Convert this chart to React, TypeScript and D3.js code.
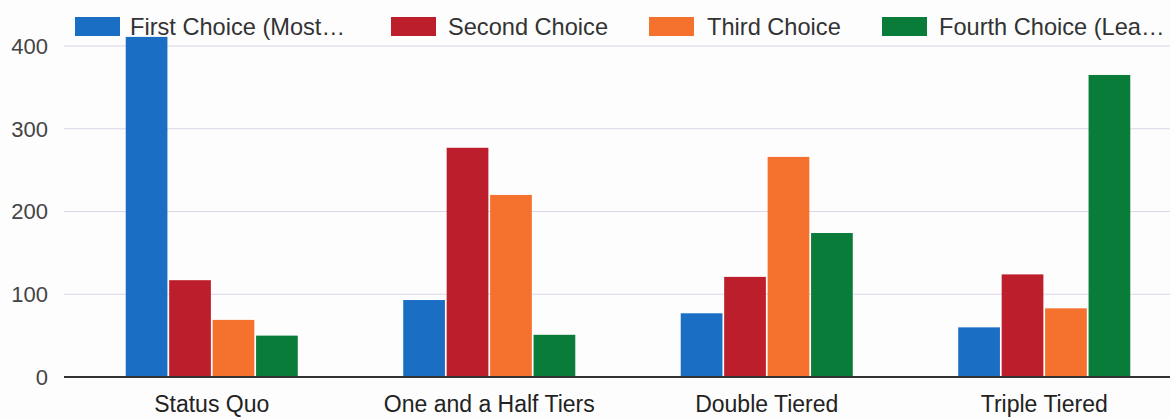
import React from "react";
import * as d3 from "d3";

const categories = ["Status Quo", "One and a Half Tiers", "Double Tiered", "Triple Tiered"];
const seriesNames = ["First Choice (Most…", "Second Choice", "Third Choice", "Fourth Choice (Lea…"];
const firstChoice = [411, 93, 77, 60];
const secondChoice = [117, 277, 121, 124];
const thirdChoice = [69, 220, 266, 83];
const fourthChoice = [50, 51, 174, 365];
const yTicks = [0, 100, 200, 300, 400];
const colors = ["#1a6ec4", "#bd1e2b", "#f4722d", "#0a7c3a"];

const W = 1170;
const H = 419;

export default function App() {
  const series = [firstChoice, secondChoice, thirdChoice, fourthChoice];
  const x = d3.scaleBand<string>().domain(categories).range([73, 1183]).paddingInner(0.38).paddingOuter(0.19);
  const xi = d3.scaleBand<number>().domain([0, 1, 2, 3]).range([0, x.bandwidth()]).paddingInner(0.04);
  const y = d3.scaleLinear().domain([0, 400]).range([377, 46]);
  const legendX = [75, 391, 649, 882];
  const legendTextX = [130, 448, 707, 939];
  const font = "'Liberation Sans', Arial, sans-serif";

  return (
    <svg width={W} height={H} style={{ position: "absolute", left: 0, top: 0, background: "#fdfdfd", fontFamily: font }}>
      <rect width={W} height={H} fill="#fdfdfd" />
      {yTicks.map((t) => (
        <g key={t}>
          {t !== 0 && <line x1={64} x2={W} y1={y(t)} y2={y(t)} stroke="#dcd6ea" strokeWidth={1} />}
          <text x={48} y={y(t)} dy="0.36em" textAnchor="end" fontSize={22} fill="#444">{t}</text>
        </g>
      ))}
      {categories.map((c, ci) => (
        <g key={c}>
          {series.map((s, si) => (
            <rect
              key={si}
              x={(x(c) as number) + (xi(si) as number)}
              y={y(s[ci])}
              width={xi.bandwidth()}
              height={y(0) - y(s[ci])}
              fill={colors[si]}
            />
          ))}
          <text x={(x(c) as number) + x.bandwidth() / 2} y={412} textAnchor="middle" fontSize={23} fill="#222">{c}</text>
        </g>
      ))}
      <line x1={64} x2={W} y1={y(0)} y2={y(0)} stroke="#333" strokeWidth={2} />
      {seriesNames.map((n, i) => (
        <g key={n}>
          <rect x={legendX[i]} y={17} width={45} height={19} fill={colors[i]} />
          <text x={legendTextX[i]} y={35} fontSize={23.6} fill="#333">{n}</text>
        </g>
      ))}
    </svg>
  );
}
